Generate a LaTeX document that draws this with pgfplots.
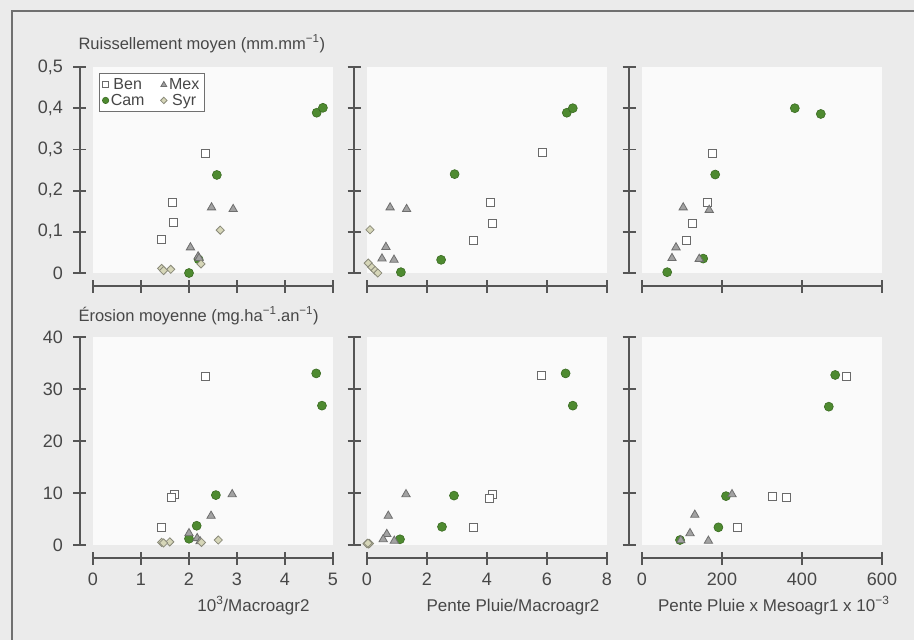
\documentclass[border=0pt]{standalone}
\usepackage{pgfplots}
\pgfplotsset{compat=1.18}
\usepackage{fontspec}
\setmainfont{Liberation Sans}
\definecolor{bgcol}{HTML}{EBEBEB}
\definecolor{plotbg}{HTML}{FAFAFA}
\definecolor{axcol}{HTML}{555555}
\definecolor{txtcol}{HTML}{474747}
\definecolor{framecol}{HTML}{707070}
\definecolor{bencol}{HTML}{6A6A6A}
\definecolor{camfill}{HTML}{4E8A30}
\definecolor{camedge}{HTML}{3A6B22}
\definecolor{mexfill}{HTML}{A2A2A2}
\definecolor{mexedge}{HTML}{6E6E6E}
\definecolor{syrfill}{HTML}{D6D6B8}
\definecolor{syredge}{HTML}{8A8A7A}
\pgfplotsset{
  panel/.style={
    scale only axis, width=240pt,
    axis lines=left,
    axis line style={-, draw=axcol, line width=2.2pt},
    axis x line shift=13pt, axis y line shift=13pt,
    tick align=center, major tick length=13pt,
    tick style={draw=axcol, line width=1.8pt},
    axis background/.style={fill=plotbg},
    clip=false,
    tick label style={font=\fontsize{18}{20}\selectfont, text=txtcol},
    yticklabel style={xshift=-7pt},
    xticklabel style={yshift=-5pt},
    label style={font=\fontsize{17}{19}\selectfont, text=txtcol},
    title style={font=\fontsize{16.5}{19}\selectfont, text=txtcol},
    /pgf/number format/assume math mode=true,
    /pgf/number format/use comma,
    /pgf/number format/fixed,
    /pgf/number format/precision=1,
  },
  smallmark/.style={legend image code/.code={\draw[##1,/tikz/only marks] plot coordinates {(3pt,0pt)};}},
  ben/.style={only marks, mark=square*, mark size=4pt, mark options={fill=white, draw=bencol, line width=1pt}},
  cam/.style={only marks, mark=*, mark size=4.5pt, mark options={fill=camfill, draw=camedge, line width=0.6pt}},
  mex/.style={only marks, mark=triangle*, mark size=4.8pt, mark options={fill=mexfill, draw=mexedge, line width=0.8pt}},
  syr/.style={only marks, mark=square*, mark size=2.9pt, mark options={rotate=45, fill=syrfill, draw=syredge, line width=0.8pt}},
}
\begin{document}
\begin{tikzpicture}
\path[use as bounding box] (0pt,0pt) rectangle (914pt,-640pt);
\fill[bgcol] (0pt,0pt) rectangle (914pt,-640pt);
\draw[framecol, line width=1.2pt] (12pt,-640pt) -- (12pt,-11pt) -- (914pt,-11pt);

% ---------- Top left
\begin{axis}[panel, height=206pt, at={(93pt,-273pt)}, anchor=south west,
  xmin=0, xmax=5, ymin=0, ymax=0.5,
  xtick={0,1,2,3,4,5}, xticklabels={},
  ytick={0,0.1,0.2,0.3,0.4,0.5},
  title={Ruissellement moyen (mm.mm\textsuperscript{−1})},
  title style={at={(axis description cs:0,1)}, anchor=base west, xshift=-18pt, yshift=12pt},
  legend columns=2,
  legend style={at={(axis description cs:0.025,0.97)}, anchor=north west, draw=framecol, line width=0.8pt, fill=white,
    font=\fontsize{16}{16}\selectfont, text=txtcol, inner xsep=3pt, inner ysep=3pt, row sep=-1pt,
    /tikz/every even column/.append style={column sep=14pt}},
  legend entries={Ben,Mex,Cam,Syr}]
\addlegendimage{ben, mark size=3pt, smallmark}
\addlegendimage{mex, mark size=3.4pt, smallmark}
\addlegendimage{cam, mark size=3.2pt, smallmark}
\addlegendimage{syr, mark size=2.3pt, smallmark}
\addplot[ben, forget plot] coordinates {(2.35,0.29) (1.65,0.172) (1.68,0.122) (1.43,0.082)};
\addplot[cam, forget plot] coordinates {(4.66,0.389) (4.79,0.401) (2.58,0.238) (2.2,0.033) (2.0,0.0)};
\addplot[mex, forget plot] coordinates {(2.47,0.159) (2.92,0.155) (2.03,0.062) (2.19,0.040) (2.21,0.036)};
\addplot[syr, forget plot] coordinates {(2.65,0.104) (2.25,0.022) (1.43,0.011) (1.62,0.009) (1.47,0.006)};
\end{axis}

% ---------- Top middle
\begin{axis}[panel, height=206pt, at={(367pt,-273pt)}, anchor=south west,
  xmin=0, xmax=8, ymin=0, ymax=0.5,
  xtick={0,2,4,6,8}, xticklabels={},
  ytick={0,0.1,0.2,0.3,0.4,0.5}, yticklabels={}]
\addplot[ben] coordinates {(5.84,0.292) (4.13,0.172) (4.17,0.120) (3.54,0.079)};
\addplot[cam] coordinates {(6.66,0.389) (6.86,0.400) (2.92,0.240) (2.47,0.032) (1.13,0.002)};
\addplot[mex] coordinates {(0.77,0.159) (1.32,0.155) (0.63,0.063) (0.5,0.035) (0.9,0.032)};
\addplot[syr] coordinates {(0.1,0.105) (0.04,0.024) (0.16,0.014) (0.27,0.006) (0.36,0.0)};
\end{axis}

% ---------- Top right
\begin{axis}[panel, height=206pt, at={(642pt,-273pt)}, anchor=south west,
  xmin=0, xmax=600, ymin=0, ymax=0.5,
  xtick={0,200,400,600}, xticklabels={},
  ytick={0,0.1,0.2,0.3,0.4,0.5}, yticklabels={}]
\addplot[ben] coordinates {(177,0.29) (163,0.171) (125,0.12) (112,0.08)};
\addplot[cam] coordinates {(382,0.400) (447,0.386) (183,0.239) (153,0.035) (63,0.002)};
\addplot[mex] coordinates {(103,0.159) (168,0.153) (85,0.062) (75,0.036) (143,0.034)};
\end{axis}

% ---------- Bottom left
\begin{axis}[panel, height=208pt, at={(93pt,-545pt)}, anchor=south west,
  xmin=0, xmax=5, ymin=0, ymax=40,
  xtick={0,1,2,3,4,5},
  ytick={0,10,20,30,40},
  /pgf/number format/precision=0,
  title={Érosion moyenne (mg.ha\textsuperscript{−1}.an\textsuperscript{−1})},
  title style={at={(axis description cs:0,1)}, anchor=base west, xshift=-18pt, yshift=10pt},
  xlabel={10\textsuperscript{3}/Macroagr2},
  xlabel style={at={(axis description cs:1,0)}, anchor=base east, xshift=-20pt, yshift=-66pt}]
\addplot[ben] coordinates {(2.35,32.5) (1.69,9.75) (1.64,9.1) (1.42,3.3)};
\addplot[cam] coordinates {(4.65,33.0) (4.77,26.8) (2.56,9.6) (2.16,3.7) (2.0,1.2)};
\addplot[mex] coordinates {(2.9,9.75) (2.46,5.6) (2.0,2.25) (2.17,1.3) (2.23,0.7)};
\addplot[syr] coordinates {(2.61,0.96) (2.26,0.5) (1.43,0.5) (1.6,0.6) (1.47,0.4)};
\end{axis}

% ---------- Bottom middle
\begin{axis}[panel, height=208pt, at={(367pt,-545pt)}, anchor=south west,
  xmin=0, xmax=8, ymin=0, ymax=40,
  xtick={0,2,4,6,8},
  ytick={0,10,20,30,40}, yticklabels={},
  /pgf/number format/precision=0,
  xlabel={Pente Pluie/Macroagr2},
  xlabel style={at={(axis description cs:1,0)}, anchor=base east, xshift=-4pt, yshift=-66pt}]
\addplot[ben] coordinates {(5.82,32.6) (4.17,9.8) (4.1,9.0) (3.54,3.3)};
\addplot[cam] coordinates {(6.62,33.0) (6.86,26.8) (2.9,9.5) (2.5,3.5) (1.1,1.1)};
\addplot[mex] coordinates {(1.3,9.75) (0.71,5.6) (0.66,2.1) (0.54,1.1) (0.91,0.8)};
\addplot[syr] coordinates {(0.02,0.3) (0.05,0.2) (0.0,0.25) (0.08,0.3) (0.03,0.35)};
\end{axis}

% ---------- Bottom right
\begin{axis}[panel, height=208pt, at={(642pt,-545pt)}, anchor=south west,
  xmin=0, xmax=600, ymin=0, ymax=40,
  xtick={0,200,400,600},
  ytick={0,10,20,30,40}, yticklabels={},
  /pgf/number format/precision=0,
  xlabel={Pente Pluie x Mesoagr1 x 10\textsuperscript{−3}},
  xlabel style={at={(axis description cs:1,0)}, anchor=base east, xshift=11pt, yshift=-66pt}]
\addplot[ben] coordinates {(512,32.4) (326,9.4) (362,9.1) (239,3.3)};
\addplot[cam] coordinates {(483,32.7) (467,26.6) (210,9.4) (191,3.4) (95,0.96)};
\addplot[mex] coordinates {(225,9.75) (132,5.8) (120,2.25) (166,0.8) (97,0.9)};
\end{axis}
\end{tikzpicture}
\end{document}
